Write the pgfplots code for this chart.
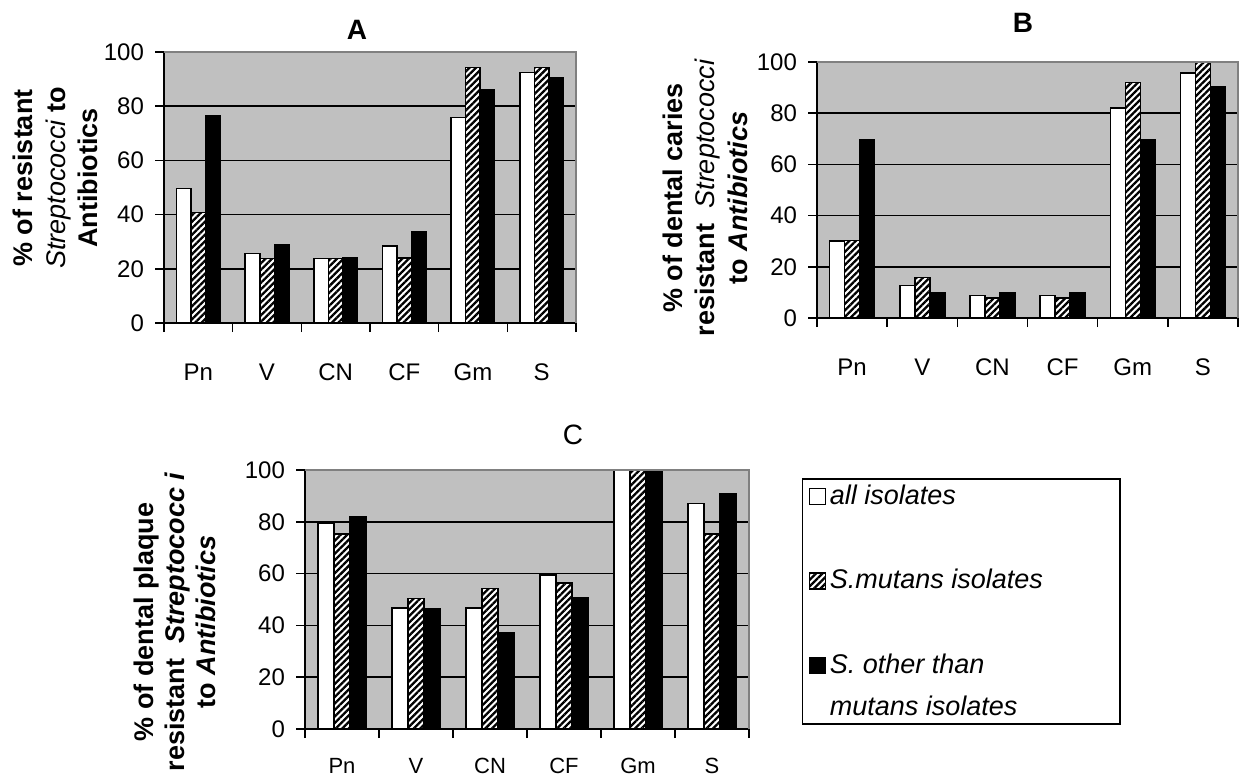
\documentclass[border=0pt]{standalone}
\usepackage{fontspec}
\setmainfont{Liberation Sans}
\usepackage{pgfplots}
\pgfplotsset{compat=1.18}
\usetikzlibrary{patterns.meta}
\definecolor{plotbg}{RGB}{192,192,192}
\definecolor{bordergray}{RGB}{128,128,128}
\begin{document}
\begin{tikzpicture}
\path[use as bounding box] (0,0) rectangle (620pt,389pt);
\pgfplotsset{
  panel/.style={
    scale only axis, anchor=south west,
    xmin=-0.5, xmax=5.5, ymin=0, ymax=100,
    axis x line*=bottom, axis y line*=left,
    axis line style={black, line width=0.75pt},
    axis background/.style={fill=plotbg},
    xtick={-0.5,0.5,...,5.5}, xticklabels={},
    extra x ticks={0,1,2,3,4,5},
    extra x tick labels={Pn,V,CN,CF,Gm,S},
    extra x tick style={major tick length=0pt, xticklabel style={anchor=center, yshift=#1}},
    ytick={0,20,...,80}, extra y ticks={100}, extra y tick style={grid=none},
    ymajorgrids, grid style={black, line width=0.75pt},
    tick align=outside, major tick length=4.5pt,
    tick style={black, line width=0.75pt},
    tick label style={font=\fontsize{12}{13.5}\selectfont},
    yticklabel style={xshift=-2pt},
    /pgf/number format/assume math mode=true,
    ybar=0pt,
    after end axis/.code={\draw[bordergray, line width=0.75pt] (rel axis cs:0,1) -- (rel axis cs:1,1) -- (rel axis cs:1,0);},
  },
  sall/.style={draw=black, fill=white, line width=0.75pt},
  smut/.style={draw=black, fill=white, line width=0.75pt, postaction={pattern={Lines[angle=45,distance=2.3pt,line width=1.15pt]}}},
  soth/.style={draw=black, fill=black, line width=0.75pt},
  sothleg/.style={soth, legend image code/.code={\draw[##1, line width=0.6pt] (0pt,20.8pt) rectangle (8pt,28.8pt);}},
}
% Panel A
\begin{axis}[panel={-24.5pt}, at={(82pt,227.5pt)}, width=206pt, height=135.5pt, bar width=7.25pt]
\addplot[sall] coordinates {(0,49.6) (1,25.6) (2,23.8) (3,28.4) (4,75.8) (5,92.4)};
\addplot[smut] coordinates {(0,40.8) (1,23.8) (2,23.8) (3,23.9) (4,94.3) (5,94.3)};
\addplot[soth] coordinates {(0,76.3) (1,28.7) (2,24.0) (3,33.7) (4,85.9) (5,90.6)};
\end{axis}
% Panel B
\begin{axis}[panel={-24.5pt}, at={(408.5pt,230pt)}, width=210.5pt, height=128pt, bar width=7.5pt]
\addplot[sall] coordinates {(0,30.1) (1,12.6) (2,8.7) (3,8.7) (4,82.0) (5,95.8)};
\addplot[smut] coordinates {(0,30.3) (1,15.8) (2,7.8) (3,7.8) (4,92.0) (5,100)};
\addplot[soth] coordinates {(0,69.8) (1,9.9) (2,9.9) (3,9.9) (4,69.8) (5,90.2)};
\end{axis}
% Panel C
\begin{axis}[panel={-18.5pt}, at={(152.5pt,24.5pt)}, width=222pt, height=129.5pt, bar width=8pt,
  extra x tick style={xticklabel style={font=\fontsize{11}{12}\selectfont}},
  legend style={at={(1.119,0.969)}, anchor=north west, draw=black, line width=0.75pt,
    font=\fontsize{13.5}{20.8}\selectfont\itshape, row sep=27pt, inner xsep=3pt, inner ysep=1pt,
    cells={anchor=base west, align=left}},
  legend image code/.code={\draw[#1, line width=0.6pt] (0pt,0pt) rectangle (8pt,8pt);},
]
\addplot[sall] coordinates {(0,79.5) (1,46.7) (2,46.7) (3,59.5) (4,100) (5,87.1)};
\addplot[smut] coordinates {(0,75.3) (1,50.4) (2,54.2) (3,56.3) (4,100) (5,75.2)};
\addplot[sothleg] coordinates {(0,81.8) (1,46.3) (2,37.1) (3,50.8) (4,100) (5,91.0)};
\legend{\makebox[140pt][l]{all isolates}, S.mutans isolates, {S. other than\\mutans isolates}}
\end{axis}
% titles
\node[font=\fontsize{14}{16}\selectfont\bfseries] at (178.5pt,374pt) {A};
\node[font=\fontsize{14}{16}\selectfont\bfseries] at (511.5pt,377.5pt) {B};
\node[font=\fontsize{14}{16}\selectfont] at (286.5pt,171.5pt) {C};
% y labels
\node[rotate=90, align=center, font=\fontsize{13.5}{16.25}\selectfont\bfseries] at (27.75pt,300pt)
  {\% of resistant\\{\mdseries\itshape Streptococci} to\\Antibiotics};
\node[rotate=90, align=center, font=\fontsize{13.5}{16.25}\selectfont\bfseries] at (352.5pt,290pt)
  {\% of dental caries\\resistant\ \ {\mdseries\itshape Streptococci}\\to {\itshape Antibiotics}};
\node[rotate=90, align=center, font=\fontsize{13.5}{15.5}\selectfont\bfseries] at (87.5pt,78pt)
  {\% of dental plaque\\resistant\ \ {\itshape Streptococc i}\\to {\itshape Antibiotics}};
\end{tikzpicture}
\end{document}
